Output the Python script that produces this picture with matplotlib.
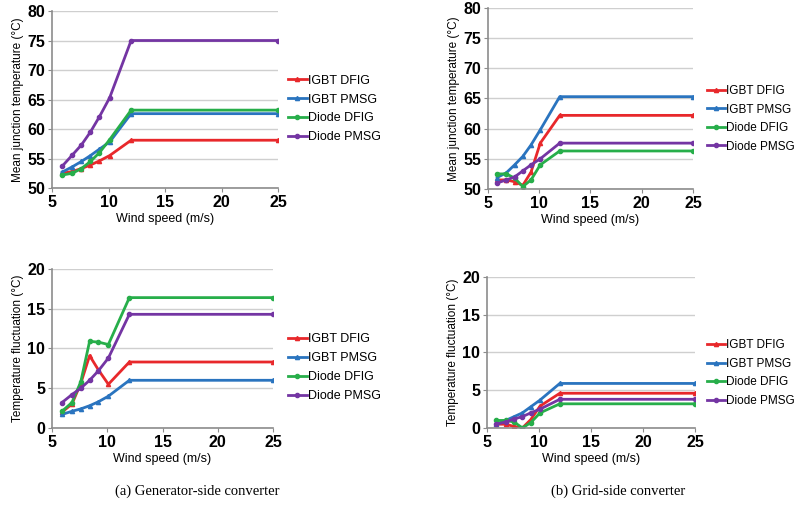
import matplotlib.pyplot as plt

plt.rcParams['font.family'] = ['Liberation Sans', 'DejaVu Sans']

# wind speed points (m/s)
wind = [5.9, 6.8, 7.6, 8.4, 9.2, 10.1, 12, 25]
labels = ['IGBT DFIG', 'IGBT PMSG', 'Diode DFIG', 'Diode PMSG']

# (a) generator-side, mean junction temperature
gen_mean_igbt_dfig = [52.5, 52.8, 53.3, 53.9, 54.6, 55.5, 58.1, 58.1]
gen_mean_igbt_pmsg = [52.7, 53.6, 54.5, 55.5, 56.6, 57.8, 62.6, 62.6]
gen_mean_diode_dfig = [52.2, 52.5, 53.3, 54.5, 56.0, 58.2, 63.2, 63.2]
gen_mean_diode_pmsg = [53.7, 55.6, 57.3, 59.5, 62.1, 65.3, 75.0, 75.0]

# (b) grid-side, mean junction temperature
grid_mean_igbt_dfig = [51.5, 51.5, 51.2, 50.6, 52.8, 57.6, 62.2, 62.2]
grid_mean_igbt_pmsg = [51.9, 52.7, 54.0, 55.4, 57.3, 59.8, 65.3, 65.3]
grid_mean_diode_dfig = [52.5, 52.5, 51.8, 50.4, 51.5, 54.0, 56.3, 56.3]
grid_mean_diode_pmsg = [51.0, 51.5, 52.0, 53.0, 54.0, 55.0, 57.6, 57.6]

# (a) generator-side, temperature fluctuation
gen_fluc_igbt_dfig = [2.0, 3.0, 5.6, 9.1, 7.3, 5.5, 8.3, 8.3]
gen_fluc_igbt_pmsg = [1.7, 2.1, 2.4, 2.8, 3.3, 4.0, 6.0, 6.0]
gen_fluc_diode_dfig = [2.1, 3.2, 5.8, 10.9, 10.8, 10.5, 16.4, 16.4]
gen_fluc_diode_pmsg = [3.2, 4.2, 5.0, 6.0, 7.2, 8.8, 14.3, 14.3]

# (b) grid-side, temperature fluctuation
grid_fluc_igbt_dfig = [0.5, 0.5, 0.2, 0.0, 1.1, 2.9, 4.6, 4.6]
grid_fluc_igbt_pmsg = [0.5, 1.0, 1.5, 2.0, 2.8, 3.7, 5.9, 5.9]
grid_fluc_diode_dfig = [1.0, 1.0, 0.8, 0.0, 0.7, 2.0, 3.2, 3.2]
grid_fluc_diode_pmsg = [0.5, 0.8, 1.2, 1.5, 2.0, 2.5, 3.8, 3.8]

colors = ('#e8282b', '#2a74bf', '#27ae4a', '#7435a3')
markers = ('^', '^', 'o', 'o')

fig = plt.figure(figsize=(7.98, 5.12), dpi=100)

panels = [
    ([0.0652, 0.6328, 0.2832, 0.3457], [gen_mean_igbt_dfig, gen_mean_igbt_pmsg, gen_mean_diode_dfig, gen_mean_diode_pmsg],
     (50, 80), 'Mean junction temperature (°C)', (0.361, 0.787), 9),
    ([0.6115, 0.6309, 0.2569, 0.3535], [grid_mean_igbt_dfig, grid_mean_igbt_pmsg, grid_mean_diode_dfig, grid_mean_diode_pmsg],
     (50, 80), 'Mean junction temperature (°C)', (0.886, 0.768), 8.5),
    ([0.0652, 0.1641, 0.2769, 0.3105], [gen_fluc_igbt_dfig, gen_fluc_igbt_pmsg, gen_fluc_diode_dfig, gen_fluc_diode_pmsg],
     (0, 20), 'Temperature fluctuation (°C)', (0.361, 0.282), 9),
    ([0.6103, 0.1641, 0.2606, 0.2949], [grid_fluc_igbt_dfig, grid_fluc_igbt_pmsg, grid_fluc_diode_dfig, grid_fluc_diode_pmsg],
     (0, 20), 'Temperature fluctuation (°C)', (0.886, 0.2715), 8.5),
]

for rect, series, ylim, ylabel, leg_pos, leg_fs in panels:
    ax = fig.add_axes(rect)
    for j, vals in enumerate(series):
        ax.plot(wind, vals, color=colors[j], marker=markers[j], markersize=3, linewidth=2, label=labels[j])
    ax.set_xlim(5, 25)
    ax.set_ylim(*ylim)
    ax.set_xticks([5, 10, 15, 20, 25])
    ax.set_yticks(range(ylim[0], ylim[1] + 1, 5))
    ax.grid(axis='y', color='#cfcfcf', linewidth=1)
    ax.set_axisbelow(True)
    for s in ('top', 'right'):
        ax.spines[s].set_visible(False)
    for s in ('left', 'bottom'):
        ax.spines[s].set_color('#8c8c8c')
        ax.spines[s].set_linewidth(1.2)
    ax.tick_params(axis='both', labelsize=11.5, color='#8c8c8c', length=3, pad=2)
    for t in ax.get_xticklabels() + ax.get_yticklabels():
        t.set_fontweight('bold')
    ax.set_xlabel('Wind speed (m/s)', fontsize=9, labelpad=2)
    ax.set_ylabel(ylabel, fontsize=8.5, labelpad=2)
    h, l = ax.get_legend_handles_labels()
    fig.legend(h, l, loc='center left', bbox_to_anchor=leg_pos, frameon=False, fontsize=leg_fs,
               handlelength=1.5, handletextpad=0.1, labelspacing=0.55, borderaxespad=0, borderpad=0)

fig.text(0.247, 0.04, '(a) Generator-side converter', family='Liberation Serif', fontsize=10.5, ha='center', va='center')
fig.text(0.775, 0.04, '(b) Grid-side converter', family='Liberation Serif', fontsize=10.5, ha='center', va='center')

plt.savefig('out.png', dpi=100)
